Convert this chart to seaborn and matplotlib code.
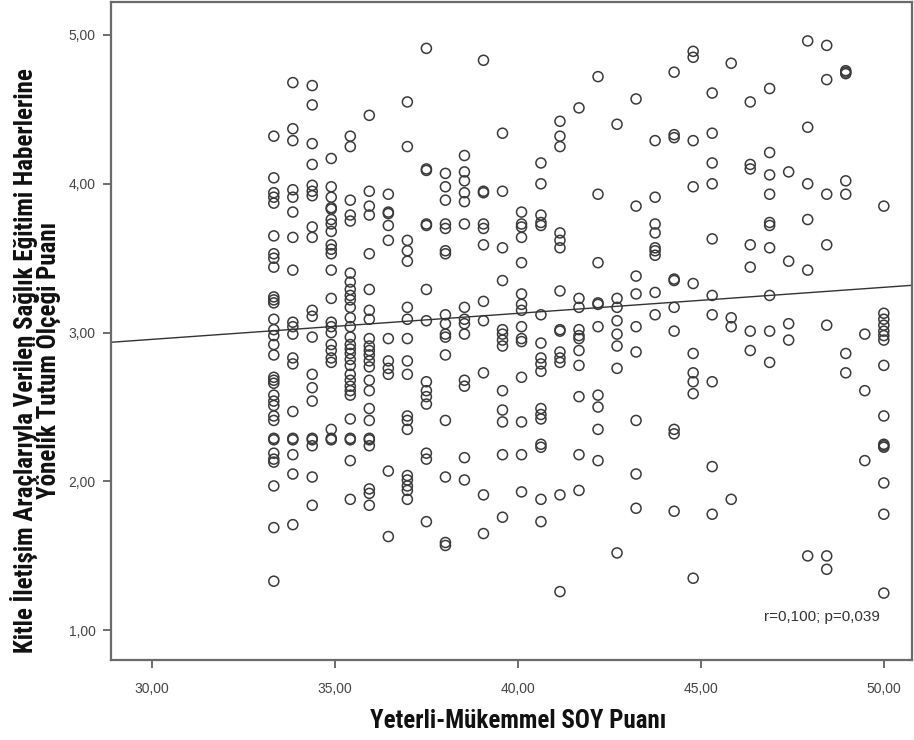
import matplotlib
matplotlib.use("Agg")
import matplotlib.pyplot as plt
import matplotlib.ticker as mticker
import seaborn as sns
import pandas as pd

# SOY score levels (x) and attitude scores (y)
soy_levels = [33.33, 33.85, 34.38, 34.90, 35.42, 35.94, 36.46, 36.98, 37.50, 38.02,
              38.54, 39.06, 39.58, 40.10, 40.63, 41.15, 41.67, 42.19, 42.71, 43.23,
              43.75, 44.27, 44.79, 45.31, 45.83, 46.35, 46.88, 47.40, 47.92, 48.44,
              48.96, 49.48, 50.00]

y_k00 = [4.32, 4.04, 3.94, 3.91, 3.87, 3.65, 3.53, 3.50, 3.44, 3.24, 3.22, 3.20, 3.09, 3.02, 2.98,
         2.92, 2.85, 2.70, 2.68, 2.66, 2.58, 2.54, 2.51, 2.44, 2.41, 2.29, 2.28, 2.19, 2.15, 2.13,
         1.97, 1.69, 1.33]
y_k01 = [4.68, 4.37, 4.29, 3.96, 3.91, 3.81, 3.64, 3.42, 3.07, 3.04, 2.99, 2.83, 2.79, 2.47, 2.29,
         2.28, 2.18, 2.05, 1.71]
y_k02 = [4.66, 4.53, 4.27, 4.13, 3.99, 3.95, 3.92, 3.71, 3.64, 3.15, 3.11, 2.97, 2.72, 2.63, 2.54,
         2.29, 2.28, 2.24, 2.03, 1.84]
y_k03 = [4.17, 3.98, 3.91, 3.84, 3.83, 3.76, 3.73, 3.68, 3.59, 3.56, 3.53, 3.42, 3.23, 3.07, 3.04,
         3.00, 2.92, 2.88, 2.83, 2.80, 2.35, 2.29, 2.28]
y_k04 = [4.32, 4.25, 3.89, 3.79, 3.75, 3.40, 3.34, 3.29, 3.25, 3.22, 3.17, 3.10, 3.04, 2.97, 2.92,
         2.89, 2.86, 2.82, 2.78, 2.72, 2.68, 2.64, 2.61, 2.58, 2.42, 2.29, 2.28, 2.14, 1.88]
y_k05 = [4.46, 3.95, 3.85, 3.79, 3.53, 3.29, 3.15, 3.09, 2.96, 2.91, 2.88, 2.85, 2.81, 2.77, 2.68,
         2.61, 2.49, 2.41, 2.29, 2.28, 2.24, 1.95, 1.92, 1.84]
y_k06 = [3.93, 3.81, 3.80, 3.72, 3.62, 2.96, 2.81, 2.76, 2.72, 2.07, 1.63]
y_k07 = [4.55, 4.25, 3.62, 3.55, 3.48, 3.17, 3.09, 2.96, 2.81, 2.72, 2.44, 2.41, 2.35, 2.04, 2.01,
         1.97, 1.94, 1.88]
y_k08 = [4.91, 4.10, 4.09, 3.73, 3.72, 3.29, 3.08, 2.67, 2.61, 2.57, 2.52, 2.19, 2.15, 1.73]
y_k09 = [4.07, 3.98, 3.89, 3.73, 3.70, 3.55, 3.53, 3.12, 3.06, 2.99, 2.97, 2.85, 2.41, 2.03, 1.59, 1.57]
y_k10 = [4.19, 4.08, 4.02, 3.94, 3.88, 3.73, 3.17, 3.09, 3.06, 2.99, 2.68, 2.64, 2.16, 2.01]
y_k11 = [4.83, 3.95, 3.94, 3.73, 3.70, 3.59, 3.21, 3.08, 2.73, 1.91, 1.65]
y_k12 = [4.34, 3.95, 3.57, 3.35, 3.02, 2.99, 2.95, 2.91, 2.61, 2.48, 2.40, 2.18, 1.76]
y_k13 = [3.81, 3.73, 3.71, 3.64, 3.47, 3.26, 3.19, 3.15, 3.04, 2.96, 2.94, 2.70, 2.40, 2.18, 1.93]
y_k14 = [4.14, 4.00, 3.79, 3.74, 3.72, 3.12, 2.93, 2.83, 2.79, 2.74, 2.49, 2.45, 2.42, 2.25, 2.23,
         1.88, 1.73]
y_k15 = [4.42, 4.32, 4.25, 3.67, 3.62, 3.57, 3.28, 3.02, 3.01, 2.87, 2.83, 2.80, 1.91, 1.26]
y_k16 = [4.51, 3.23, 3.17, 3.02, 2.98, 2.96, 2.88, 2.78, 2.57, 2.18, 1.94]
y_k17 = [4.72, 3.93, 3.47, 3.20, 3.19, 3.04, 2.58, 2.50, 2.35, 2.14]
y_k18 = [4.40, 3.23, 3.17, 3.08, 2.99, 2.91, 2.76, 1.52]
y_k19 = [4.57, 3.85, 3.38, 3.26, 3.04, 2.87, 2.41, 2.05, 1.82]
y_k20 = [4.29, 3.91, 3.73, 3.67, 3.57, 3.55, 3.52, 3.27, 3.12]
y_k21 = [4.75, 4.33, 4.31, 3.36, 3.35, 3.17, 3.01, 2.35, 2.32, 1.80]
y_k22 = [4.89, 4.85, 4.29, 3.98, 3.33, 2.86, 2.73, 2.67, 2.59, 1.35]
y_k23 = [4.61, 4.34, 4.14, 4.00, 3.63, 3.25, 3.12, 2.67, 2.10, 1.78]
y_k24 = [4.81, 3.10, 3.04, 1.88]
y_k25 = [4.55, 4.13, 4.10, 3.59, 3.44, 3.01, 2.88]
y_k26 = [4.64, 4.21, 4.06, 3.93, 3.74, 3.72, 3.57, 3.25, 3.01, 2.80]
y_k27 = [4.08, 3.48, 3.06, 2.95]
y_k28 = [4.96, 4.38, 4.00, 3.76, 3.42, 1.50]
y_k29 = [4.93, 4.70, 3.93, 3.59, 3.05, 1.50, 1.41]
y_k30 = [4.76, 4.75, 4.74, 4.02, 3.93, 2.86, 2.73]
y_k31 = [2.99, 2.61, 2.14]
y_k32 = [3.85, 3.13, 3.09, 3.05, 3.01, 2.98, 2.95, 2.78, 2.44, 2.25, 2.24, 2.23, 1.99, 1.78, 1.25]

columns = [y_k00, y_k01, y_k02, y_k03, y_k04, y_k05, y_k06, y_k07, y_k08, y_k09, y_k10,
           y_k11, y_k12, y_k13, y_k14, y_k15, y_k16, y_k17, y_k18, y_k19, y_k20, y_k21,
           y_k22, y_k23, y_k24, y_k25, y_k26, y_k27, y_k28, y_k29, y_k30, y_k31, y_k32]

x_ticks = [30, 35, 40, 45, 50]
y_ticks = [1, 2, 3, 4, 5]
annotation = "r=0,100; p=0,039"
x_label = "Yeterli-Mükemmel SOY Puanı"
y_label = "Kitle İletişim Araçlarıyla Verilen Sağlık Eğitimi Haberlerine\nYönelik Tutum Ölçeği Puanı"

rows = []
for lvl, ys in zip(soy_levels, columns):
    for v in ys:
        rows.append((lvl, v))
df = pd.DataFrame(rows, columns=["soy", "tutum"])

sns.set_style("ticks")
plt.rcParams["font.family"] = ["Liberation Sans", "DejaVu Sans"]
label_family = ["Roboto Condensed", "Liberation Sans Narrow", "Liberation Sans", "DejaVu Sans"]

fig = plt.figure(figsize=(9.14, 7.40), dpi=100)
ax = fig.add_axes([0.1214, 0.108, 0.8764, 0.889])

sns.scatterplot(data=df, x="soy", y="tutum", ax=ax, s=52, facecolor="none",
                edgecolor="#3a3a3a", linewidth=1.1, marker="o")
ax.set_xlim(28.88, 50.77)
ax.set_ylim(0.80, 5.22)
sns.regplot(data=df, x="soy", y="tutum", ax=ax, scatter=False, ci=None, truncate=False,
            line_kws=dict(color="#333333", linewidth=1.0))
ax.set_xlim(28.88, 50.77)
ax.set_ylim(0.80, 5.22)

ax.set_xticks(x_ticks)
ax.set_yticks(y_ticks)
fmt = mticker.FuncFormatter(lambda v, p: f"{v:.2f}".replace(".", ","))
ax.xaxis.set_major_formatter(fmt)
ax.yaxis.set_major_formatter(fmt)
ax.tick_params(axis="both", direction="out", length=6, width=1.2, color="#555555",
               labelsize=10, labelcolor="#444444")
ax.tick_params(axis="x", pad=10)
ax.tick_params(axis="y", pad=5)
for sp in ax.spines.values():
    sp.set_color("#6a6a6a")
    sp.set_linewidth(1.6)

ax.set_xlabel(x_label, fontsize=18, fontweight="bold", color="#111111",
              family=label_family)
ax.set_ylabel(y_label, fontsize=18, fontweight="bold", color="#111111",
              linespacing=0.8, family=label_family)
ax.yaxis.set_label_coords(-0.062, 0.455)
ax.xaxis.set_label_coords(0.508, -0.074)

ax.text(0.96, 0.065, annotation, transform=ax.transAxes, ha="right", va="center",
        fontsize=11, color="#333333")

fig.savefig("out.png", dpi=100, facecolor="white")
